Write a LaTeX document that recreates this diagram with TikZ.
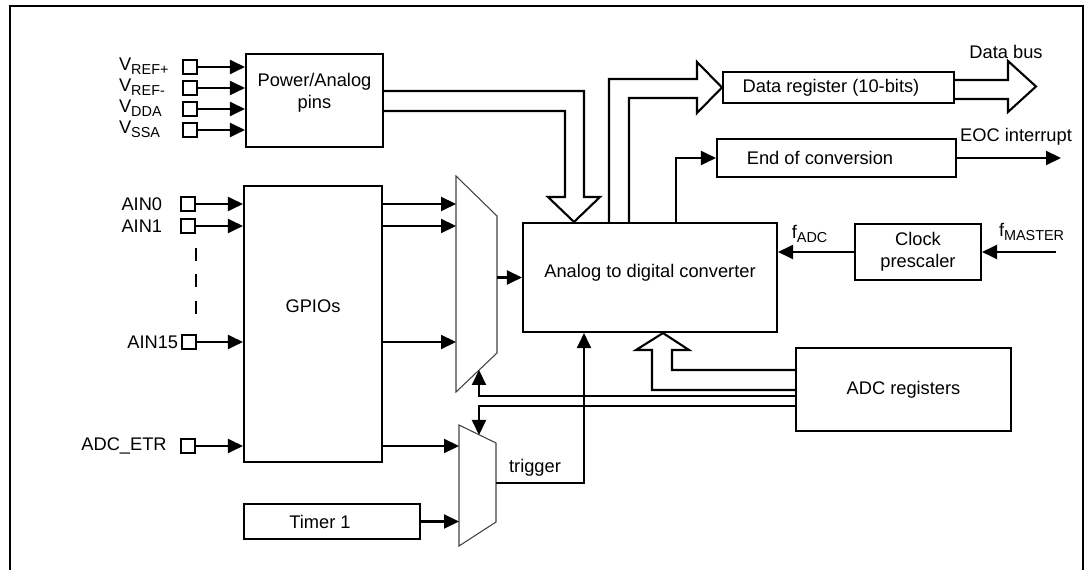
\documentclass[tikz,border=0pt]{standalone}
\usepackage{fontspec}
\setmainfont{Liberation Sans}
\usetikzlibrary{arrows.meta,positioning}
\newcommand{\idx}[1]{\textsubscript{\fontsize{8.2}{9}\selectfont #1}}

\begin{document}
\begin{tikzpicture}[x=0.02cm,y=-0.02cm,line width=1.2pt,
  font=\fontsize{10.4}{12.5}\selectfont,
  >={Triangle[length=0.3cm,width=0.28cm]},
  blk/.style={draw,inner sep=0pt},
  pin/.style={draw,line width=0.9pt,inner sep=0pt,minimum size=0.28cm},
  pinlbl/.style={inner sep=0pt},
  mux/.style={draw=black!75,line width=0.6pt},
  bus/.style={draw,line join=miter}]

\useasboundingbox (0,0) rectangle (1086,570);
\clip (0,0) rectangle (1086,570);

%Rahmen
\draw (10,580) -- (10,6) -- (1083,6) -- (1083,580);

%Bloecke
\node[blk,minimum width=2.74cm,minimum height=1.86cm,label={[yshift=0.16cm,align=center]center:Power/Analog\\pins}] (pwr) at (314.5,100.5) {};
\node[blk,minimum width=2.76cm,minimum height=5.52cm,label={[yshift=0.36cm]center:GPIOs}] (gpio) at (313,324) {};
\node[blk,minimum width=3.52cm,minimum height=0.70cm,label={[xshift=-0.24cm]center:Timer 1}] (timer) at (332,521.5) {};
\node[blk,minimum width=5.08cm,minimum height=2.18cm,label={[yshift=0.09cm]center:Analog to digital converter}] (adc) at (650,277.5) {};
\node[blk,minimum width=4.62cm,minimum height=0.62cm,label={[xshift=-0.15cm]center:Data register (10-bits)}] (dreg) at (838.5,87.5) {};
\node[blk,minimum width=4.78cm,minimum height=0.76cm,label={[xshift=-0.33cm]center:End of conversion}] (eoc) at (836.5,158) {};
\node[blk,minimum width=2.52cm,minimum height=1.12cm,align=center] (clk) at (918,252) {Clock\\prescaler};
\node[blk,minimum width=4.30cm,minimum height=1.66cm] (regs) at (903.5,389.5) {ADC registers};

%Pins
\node[pin] (vrefp) at (190,67) {};
\node[pin] (vrefm) at (190,88) {};
\node[pin] (vdda) at (190,109) {};
\node[pin] (vssa) at (190,130) {};
\node[pinlbl,anchor=west] (lvrefp) at (118,66) {V\idx{REF+}};
\node[pinlbl,anchor=west] (lvrefm) at (118,87) {V\idx{REF-}};
\node[pinlbl,anchor=west] (lvdda) at (118,108) {V\idx{DDA}};
\node[pinlbl,anchor=west] (lvssa) at (118,129) {V\idx{SSA}};

\node[pin] (ain0) at (188,204) {};
\node[pin] (ain1) at (188,226) {};
\node[pin] (ain15) at (189,342) {};
\node[pin] (etr) at (188,446) {};
\node[pinlbl,left=0.34cm of ain0] (lain0) {AIN0};
\node[pinlbl,left=0.34cm of ain1] (lain1) {AIN1};
\node[pinlbl,left=0.04cm of ain15] (lain15) {AIN15};
\node[pinlbl,left=0.25cm of etr] (letr) {ADC\_ETR};
\draw[dash pattern=on 0.26cm off 0.27cm] (196,248) -- (196,314);

\foreach \p in {vrefp,vrefm,vdda,vssa}
  \draw[->] (\p) -- (\p -| pwr.west);
\foreach \p in {ain0,ain1,ain15,etr}
  \draw[->] (\p) -- (\p -| gpio.west);

%Multiplexer
\coordinate (m1a) at (456,176);
\coordinate (m1b) at (497,216);
\coordinate (m1c) at (497,353);
\coordinate (m1d) at (456,392);
\coordinate (m2a) at (459,425);
\coordinate (m2b) at (496,443);
\coordinate (m2c) at (496,522);
\coordinate (m2d) at (459,546);
\draw[mux] (m1a) -- (m1b) -- (m1c) -- (m1d) -- cycle;
\draw[mux] (m2a) -- (m2b) -- (m2c) -- (m2d) -- cycle;

\foreach \p in {ain0,ain1,ain15}
  \draw[->] (gpio.east |- \p) -- (m1a |- \p);
\draw[->] (gpio.east |- etr) -- (m2a |- etr);
\draw[->] (timer.east) -- (timer.east -| m2a);
\draw[->] (m1b |- adc.west) -- (adc.west);

%Trigger
\draw[->] (m2b |- 0,483) -- (584,483) -- (adc.south -| 584,0);
\node (trig) at (535,468) {trigger};

%Auswahl
\coordinate (s1) at (479,370);
\coordinate (s2) at (479,435);
\draw[->] (regs.west |- 0,396) -| (s1);
\draw[->] (regs.west |- 0,406) -| (s2);

%Busse
\draw[bus] (pwr.east |- 0,91) -- (584,91) -- (584,197) -- (600,197) -- (adc.north -| 574,0) -- (548,197) -- (565,197) -- (565,111) -- (pwr.east |- 0,111);
\draw[bus] (adc.north -| 609,0) -- (609,79) -- (697,79) -- (697,62) -- (dreg.west) -- (697,113) -- (697,98) -- (629,98) -- (adc.north -| 629,0);
\coordinate (dbus) at (1036,86.5);
\draw[bus] (dreg.east |- 0,80) -- (1008,80) -- (1008,61) -- (dbus) -- (1008,112) -- (1008,99) -- (dreg.east |- 0,99);
\node (lbus) at (1006,52) {Data bus};
\draw[bus] (regs.west |- 0,390) -- (652,390) -- (652,350) -- (636,350) -- (adc.south -| 663,0) -- (689,350) -- (672,350) -- (672,370) -- (regs.west |- 0,370);

%EOC
\draw[->] (adc.north -| 676,0) |- (eoc.west);
\coordinate (eocint) at (1061,158);
\draw[->] (eoc.east) -- (eocint);
\node (leoc) at (1016,137) {EOC interrupt};

%Takt
\draw[->] (clk.west) -- (clk.west -| adc.east);
\node (lfadc) at (810,234) {f\idx{ADC}};
\coordinate (fmaster) at (1056,252);
\draw[->] (fmaster) -- (clk.east);
\node (lfm) at (1032,232) {f\idx{MASTER}};
\end{tikzpicture}
\end{document}
